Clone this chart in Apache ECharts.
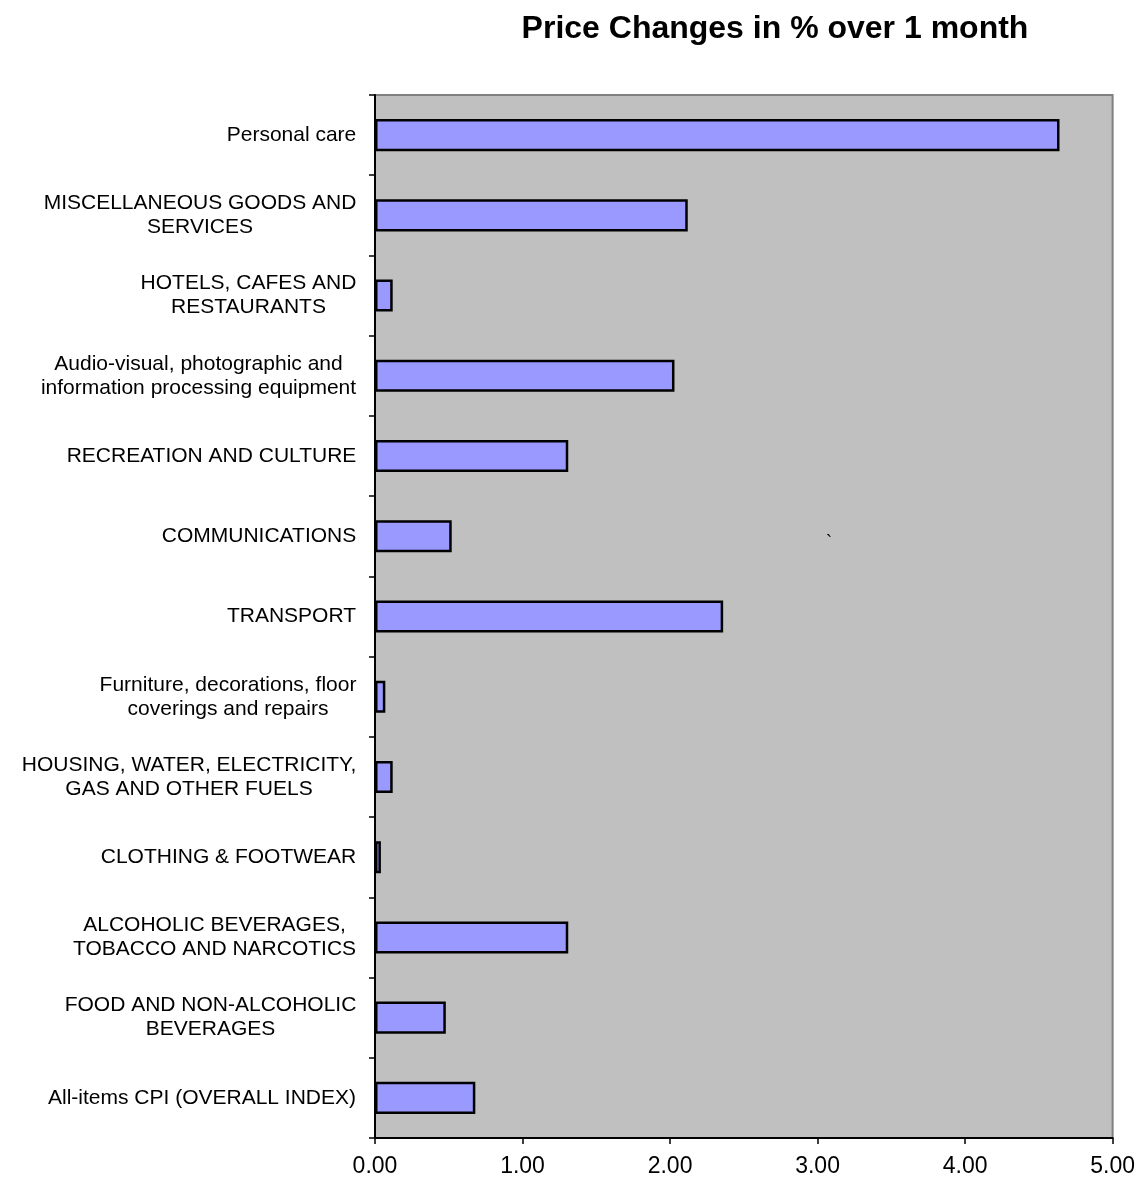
<!DOCTYPE html>
<html>
<head>
<meta charset="utf-8">
<script src="https://cdn.jsdelivr.net/npm/echarts@6/dist/echarts.min.js"></script>
<style>
html,body{margin:0;padding:0;background:#fff;}
#c{width:1138px;height:1178px;}
</style>
</head>
<body>
<div id="c"></div>
<script>
const categories = [
  "Personal care",
  "MISCELLANEOUS GOODS AND\nSERVICES",
  "HOTELS, CAFES AND\nRESTAURANTS",
  "Audio-visual, photographic and\ninformation processing equipment",
  "RECREATION AND CULTURE",
  "COMMUNICATIONS",
  "TRANSPORT",
  "Furniture, decorations, floor\ncoverings and repairs",
  "HOUSING, WATER, ELECTRICITY,\nGAS AND OTHER FUELS",
  "CLOTHING & FOOTWEAR",
  "ALCOHOLIC BEVERAGES,\nTOBACCO AND NARCOTICS",
  "FOOD AND NON-ALCOHOLIC\nBEVERAGES",
  "All-items CPI (OVERALL INDEX)"
];
const values = [4.64, 2.12, 0.12, 2.03, 1.31, 0.52, 2.36, 0.07, 0.12, 0.04, 1.31, 0.48, 0.68];
const xTicks = [0, 1, 2, 3, 4, 5];

const font = 'Liberation Sans, Arial, sans-serif';
const labelSize = 21;

// measure block widths so multi-line labels are centred line by line
const cv = document.createElement('canvas').getContext('2d');
cv.font = labelSize + 'px ' + font;
const rich = {};
categories.forEach((c, i) => {
  const w = Math.max(...c.split('\n').map(s => cv.measureText(s.trim()).width));
  rich['l' + i] = {width: Math.ceil(w) + 1, align: 'center', fontFamily: font, fontSize: labelSize, lineHeight: 24, color: '#000'};
});

const chart = echarts.init(document.getElementById('c'), null, {renderer: 'canvas'});
chart.setOption({
  animation: false,
  backgroundColor: '#ffffff',
  title: {
    text: 'Price Changes in % over 1 month',
    left: 770,
    top: 8,
    textAlign: 'center',
    textStyle: {fontFamily: font, fontSize: 32, fontWeight: 'bold', color: '#000'}
  },
  grid: {
    left: 375, right: 25, top: 95, bottom: 40,
    show: true, backgroundColor: '#c0c0c0', borderColor: '#808080', borderWidth: 2,
    containLabel: false
  },
  xAxis: {
    type: 'value',
    min: xTicks[0], max: xTicks[xTicks.length - 1], interval: 1,
    axisLine: {show: true, lineStyle: {color: '#000', width: 2}},
    axisTick: {show: true, length: 6, lineStyle: {color: '#000', width: 1.5}},
    splitLine: {show: false},
    axisLabel: {
      margin: 17, fontFamily: font, fontSize: 23, color: '#000',
      formatter: v => v.toFixed(2)
    }
  },
  yAxis: {
    type: 'category',
    inverse: true,
    data: categories,
    axisLine: {show: true, lineStyle: {color: '#000', width: 2}},
    axisTick: {show: true, length: 6, lineStyle: {color: '#000', width: 1.5}},
    axisLabel: {
      margin: 18, align: 'right',
      fontFamily: font, fontSize: labelSize, lineHeight: 24, color: '#000',
      formatter: (v, i) => v.split('\n').map(s => '{l' + i + '|' + s.trim() + '}').join('\n'),
      rich: rich
    }
  },
  series: [{
    type: 'bar',
    data: values,
    barCategoryGap: '60%',
    itemStyle: {color: '#9999ff', borderColor: '#000', borderWidth: 2.5}
  }],
  graphic: [{
    type: 'text', left: 826, top: 534,
    style: {text: '`', fontFamily: font, fontSize: 18, fill: '#000'}
  }]
});
</script>
</body>
</html>
